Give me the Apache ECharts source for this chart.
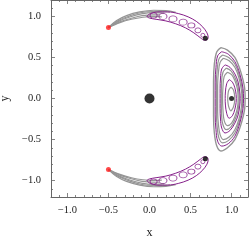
<!DOCTYPE html>
<html>
<head>
<meta charset="utf-8">
<script src="https://cdn.jsdelivr.net/npm/echarts@6/dist/echarts.min.js"></script>
<style>html,body{margin:0;padding:0;background:#fff}#c{width:249px;height:241px}</style>
</head>
<body>
<div id="c"></div>
<script>
// ---- tick data ----
const tickValues = [-1, -0.5, 0, 0.5, 1];
const tickLabels = ['\u22121.0', '\u22120.5', '0.0', '0.5', '1.0'];
const minorTicks = [-1.2, -1.1, -0.9, -0.8, -0.7, -0.6, -0.4, -0.3, -0.2, -0.1, 0.1, 0.2, 0.3, 0.4, 0.6, 0.7, 0.8, 0.9, 1.1, 1.2];

// ---- point masses / markers ----
const centralBody = [[0, 0]];
const blackPoints = [[0.68, 0.735], [0.68, -0.735], [1.0, 0]];
const redPoints = [[-0.5, 0.866], [-0.5, -0.866]];

// ---- top tadpole ----
const topGray1 = [[-0.5,0.866],[-0.4,0.95],[-0.28,1.01],[-0.12,1.055],[0.05,1.075],[0.2,1.07],[0.32,1.05]];
const topGray2 = [[-0.5,0.866],[-0.38,0.94],[-0.25,0.99],[-0.1,1.03],[0.05,1.045],[0.18,1.04]];
const topGray3 = [[-0.5,0.866],[-0.36,0.925],[-0.22,0.965],[-0.08,0.99],[0.05,1.0],[0.15,0.995]];
const topGray4 = [[-0.5,0.866],[-0.39,0.945],[-0.26,1.0],[-0.11,1.045],[0.05,1.06],[0.25,1.055]];
const topGray5 = [[-0.5,0.866],[-0.37,0.93],[-0.23,0.975],[-0.09,1.01],[0.05,1.02],[0.12,1.02]];
const topPurple = [[0.0,1.03],[0.1,1.055],[0.22,1.055],[0.35,1.035],[0.47,0.995],[0.57,0.94],[0.65,0.87],[0.7,0.8],[0.715,0.745],[0.7,0.715],[0.67,0.71],[0.62,0.74],[0.54,0.8],[0.44,0.86],[0.32,0.91],[0.2,0.945],[0.08,0.965],[0.0,0.98],[-0.03,1.0],[0.0,1.03]];
const topLoops = [[0.05,1.012],[0.164,1.0],[0.286,0.97],[0.41,0.93],[0.51,0.89],[0.59,0.83],[0.65,0.77]];

// ---- bottom tadpole ----
const botGray1 = [[-0.5,-0.866],[-0.4,-0.95],[-0.28,-1.01],[-0.12,-1.055],[0.05,-1.075],[0.2,-1.07],[0.32,-1.05]];
const botGray2 = [[-0.5,-0.866],[-0.38,-0.94],[-0.25,-0.99],[-0.1,-1.03],[0.05,-1.045],[0.18,-1.04]];
const botGray3 = [[-0.5,-0.866],[-0.36,-0.925],[-0.22,-0.965],[-0.08,-0.99],[0.05,-1.0],[0.15,-0.995]];
const botGray4 = [[-0.5,-0.866],[-0.39,-0.945],[-0.26,-1.0],[-0.11,-1.045],[0.05,-1.06],[0.25,-1.055]];
const botGray5 = [[-0.5,-0.866],[-0.37,-0.93],[-0.23,-0.975],[-0.09,-1.01],[0.05,-1.02],[0.12,-1.02]];
const botPurple = [[0.0,-1.03],[0.1,-1.055],[0.22,-1.055],[0.35,-1.035],[0.47,-0.995],[0.57,-0.94],[0.65,-0.87],[0.7,-0.8],[0.715,-0.745],[0.7,-0.715],[0.67,-0.71],[0.62,-0.74],[0.54,-0.8],[0.44,-0.86],[0.32,-0.91],[0.2,-0.945],[0.08,-0.965],[0.0,-0.98],[-0.03,-1.0],[0.0,-1.03]];
const botLoops = [[0.05,-1.012],[0.164,-1.0],[0.286,-0.97],[0.41,-0.93],[0.51,-0.89],[0.59,-0.83],[0.65,-0.77]];

// ---- right (L3-side) nested loops ----
const rLoop1 = [[0.87,0.62],[0.95,0.59],[1.04,0.5],[1.11,0.33],[1.16,0.12],[1.165,0],[1.16,-0.12],[1.11,-0.33],[1.04,-0.5],[0.95,-0.6],[0.87,-0.64],[0.82,-0.58],[0.79,-0.42],[0.78,-0.2],[0.78,0],[0.78,0.2],[0.79,0.42],[0.82,0.57],[0.87,0.62]];
const rLoop2 = [[0.88,0.57],[0.96,0.54],[1.04,0.45],[1.1,0.3],[1.14,0.12],[1.145,0],[1.14,-0.12],[1.1,-0.3],[1.04,-0.46],[0.96,-0.55],[0.88,-0.58],[0.83,-0.52],[0.81,-0.38],[0.8,-0.2],[0.8,0],[0.8,0.2],[0.81,0.38],[0.83,0.52],[0.88,0.57]];
const rLoopA = [[0.89,0.53],[0.965,0.5],[1.04,0.42],[1.095,0.28],[1.13,0.11],[1.135,0],[1.13,-0.11],[1.095,-0.28],[1.04,-0.42],[0.965,-0.51],[0.89,-0.54],[0.845,-0.48],[0.825,-0.35],[0.815,-0.18],[0.815,0],[0.815,0.18],[0.825,0.35],[0.845,0.48],[0.89,0.53]];
const rLoop3 = [[0.9,0.49],[0.97,0.46],[1.04,0.38],[1.09,0.25],[1.12,0.1],[1.125,0],[1.12,-0.1],[1.09,-0.25],[1.04,-0.38],[0.97,-0.47],[0.9,-0.5],[0.86,-0.44],[0.84,-0.32],[0.83,-0.16],[0.83,0],[0.83,0.16],[0.84,0.32],[0.86,0.44],[0.9,0.49]];
const rLoop4 = [[0.92,0.41],[0.98,0.38],[1.04,0.3],[1.08,0.2],[1.1,0.08],[1.105,0],[1.1,-0.08],[1.08,-0.2],[1.04,-0.3],[0.98,-0.39],[0.92,-0.42],[0.88,-0.36],[0.865,-0.25],[0.86,-0.12],[0.86,0],[0.86,0.12],[0.865,0.25],[0.88,0.36],[0.92,0.41]];
const rLoopB = [[0.935,0.37],[0.99,0.34],[1.04,0.26],[1.075,0.16],[1.09,0.06],[1.093,0],[1.09,-0.06],[1.075,-0.16],[1.04,-0.26],[0.99,-0.35],[0.935,-0.38],[0.895,-0.32],[0.878,-0.2],[0.875,0],[0.878,0.2],[0.895,0.32],[0.935,0.37]];
const rLoop5 = [[0.95,0.32],[1.0,0.29],[1.04,0.22],[1.07,0.12],[1.08,0],[1.07,-0.12],[1.04,-0.22],[1.0,-0.3],[0.95,-0.33],[0.91,-0.27],[0.895,-0.14],[0.89,0],[0.895,0.14],[0.91,0.27],[0.95,0.32]];
const rLoop6 = [[0.97,0.23],[1.01,0.2],[1.04,0.13],[1.055,0.05],[1.058,0],[1.055,-0.05],[1.04,-0.13],[1.01,-0.21],[0.97,-0.24],[0.94,-0.18],[0.925,-0.08],[0.922,0],[0.925,0.08],[0.94,0.18],[0.97,0.23]];
const rLoop7 = [[0.99,0.14],[1.02,0.11],[1.035,0.05],[1.038,0],[1.035,-0.05],[1.02,-0.11],[0.99,-0.15],[0.965,-0.1],[0.955,-0.04],[0.953,0],[0.955,0.04],[0.965,0.1],[0.99,0.14]];

// ---- styles ----
const GRAY = '#959595';
const PURPLE = '#86208a';
const FRAME = '#666';
const FONT = 'Liberation Serif';
const loopSizes = [[7,5],[8,6],[8,6],[8,6],[7,5],[6,5],[4,4]];

function line(data, color, w) {
  return { type: 'line', data: data, smooth: 0.35, showSymbol: false, symbol: 'none',
    lineStyle: { color: color, width: w || 1 }, silent: true, animation: false, z: color === GRAY ? 2 : 3 };
}
function loops(data) {
  return { type: 'scatter', data: data, symbol: 'circle',
    symbolSize: (v, p) => loopSizes[p.dataIndex],
    itemStyle: { color: 'rgba(0,0,0,0)', borderColor: PURPLE, borderWidth: 0.9 }, z: 4, silent: true, animation: false };
}
function dots(data, color, size) {
  return { type: 'scatter', data: data, symbol: 'circle', symbolSize: size,
    itemStyle: { color: color }, z: 6, silent: true, animation: false };
}

const fmt = v => { const i = tickValues.indexOf(v); return i >= 0 ? tickLabels[i] : ''; };
const labelStyle = { fontFamily: FONT, fontSize: 10.5, color: '#222' };

function mkAxis(dim, pos, major, showLabel) {
  return {
    type: 'value', position: pos, min: -1.2, max: 1.2,
    splitLine: { show: false },
    axisLine: { show: major, onZero: false, lineStyle: { color: FRAME, width: 1 } },
    axisTick: { show: true, inside: true, length: major ? 4 : 2, customValues: major ? tickValues : minorTicks, lineStyle: { color: FRAME, width: 0.8 } },
    axisLabel: { show: showLabel, customValues: tickValues, formatter: fmt, margin: dim === 'x' ? 8 : 10, ...labelStyle },
    axisPointer: { show: false }
  };
}

const xa0 = mkAxis('x', 'bottom', true, true);
xa0.name = 'x'; xa0.nameLocation = 'middle'; xa0.nameGap = 30;
xa0.nameTextStyle = { fontFamily: FONT, fontSize: 12, color: '#222' };
const ya0 = mkAxis('y', 'left', true, true);
ya0.name = 'y'; ya0.nameLocation = 'middle'; ya0.nameGap = 36; ya0.nameRotate = 90;
ya0.nameTextStyle = { fontFamily: FONT, fontSize: 12, color: '#222' };

const option = {
  backgroundColor: '#fff',
  animation: false,
  grid: { left: 51, right: 1, top: 0, bottom: 44, outerBoundsMode: 'none', containLabel: false },
  xAxis: [xa0, mkAxis('x','bottom',false,false), mkAxis('x','top',true,false), mkAxis('x','top',false,false)],
  yAxis: [ya0, mkAxis('y','left',false,false), mkAxis('y','right',true,false), mkAxis('y','right',false,false)],
  series: [
    line(topGray1, GRAY, 1.2), line(topGray2, GRAY, 1.2), line(topGray3, GRAY, 1.2), line(topGray4, GRAY, 1.2), line(topGray5, GRAY, 1.2),
    line(botGray1, GRAY, 1.2), line(botGray2, GRAY, 1.2), line(botGray3, GRAY, 1.2), line(botGray4, GRAY, 1.2), line(botGray5, GRAY, 1.2),
    line(rLoop1, GRAY, 1.4), line(rLoopA, GRAY, 1.2), line(rLoop3, GRAY, 1.2), line(rLoopB, GRAY, 1.2), line(rLoop5, GRAY, 1.2), line(rLoop7, GRAY, 1.2),
    line(topPurple, PURPLE), line(botPurple, PURPLE),
    line(rLoop2, PURPLE), line(rLoop4, PURPLE), line(rLoop6, PURPLE),
    loops(topLoops), loops(botLoops),
    dots(centralBody, '#000', 10),
    dots(blackPoints, '#000', 5),
    dots(redPoints, '#ff1a1a', 5)
  ]
};
const chart = echarts.init(document.getElementById('c'), null, { renderer: 'canvas' });
chart.setOption(option);
</script>
</body>
</html>
